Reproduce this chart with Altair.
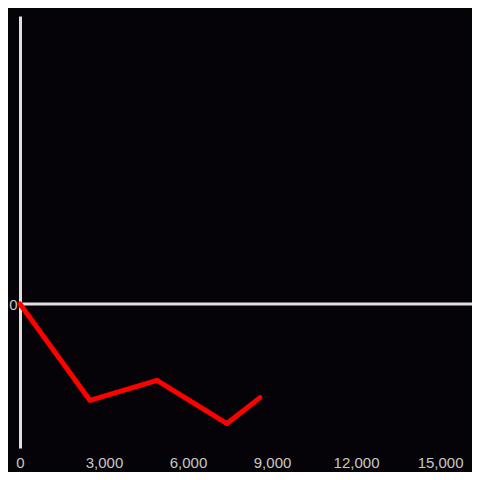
import altair as alt
import pandas as pd

x_vals = [0, 2500, 4890, 7390, 8570]
y_vals = [0, -67, -53, -83, -65]
x_ticks = [0, 3000, 6000, 9000, 12000, 15000]

df = pd.DataFrame({"x": x_vals, "y": y_vals})
zero = pd.DataFrame({"y": [0]})

xs = alt.Scale(domain=[0, 16140], nice=False, zero=False)
ys = alt.Scale(domain=[-100, 200], nice=False)

line = alt.Chart(df).mark_line(color="#ff0000", strokeWidth=5, strokeCap="round", strokeJoin="round").encode(
    x=alt.X("x:Q", scale=xs, axis=alt.Axis(
        values=x_ticks, format=",.0f", title=None, labelFlush=False,
        domain=False, ticks=False, grid=False, labelPadding=7,
        labelFontSize=15, labelFont="Liberation Sans", labelColor="#c8c8c8")),
    y=alt.Y("y:Q", scale=ys, axis=alt.Axis(
        values=[0], title=None, domain=True, domainColor="#e0e0e0", domainWidth=3,
        ticks=False, grid=False, labelPadding=3, labelFontSize=15, labelFlush=False,
        labelFont="Liberation Sans", labelColor="#c8c8c8")),
)

rule = alt.Chart(zero).mark_rule(color="#e0e0e0", strokeWidth=3).encode(y=alt.Y("y:Q", scale=ys))

chart = alt.layer(rule, line).properties(
    width=452, height=432,
    autosize=alt.AutoSizeParams(type="none"),
    padding={"left": 12, "top": 8, "right": 0, "bottom": 24},
    background="#050307",
).configure_view(stroke=None)

chart.save("out.html", embed_options={"renderer": "svg", "actions": False})
